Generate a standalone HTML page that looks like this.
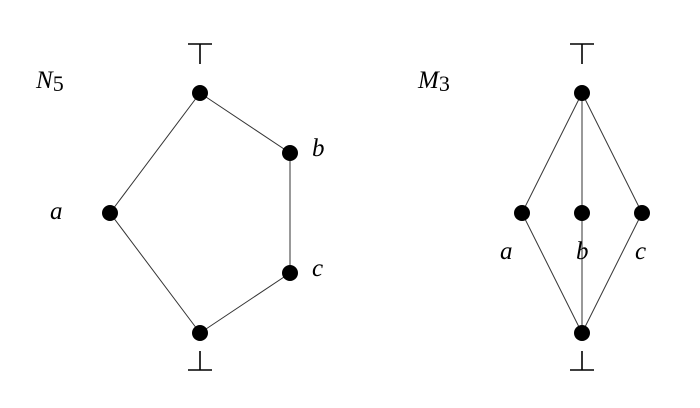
<!DOCTYPE html>
<html><head><style>body{margin:0;background:#fff}svg{display:block}text{font-family:"Liberation Serif","Times New Roman","DejaVu Serif",serif;font-style:italic;font-size:25px;fill:#000}</style></head><body>
<svg width="700" height="408" viewBox="0 0 700 408" xmlns="http://www.w3.org/2000/svg">
<g stroke="#333" stroke-width="1" fill="none">
<polyline points="200,93 290,153 290,273 200,333 110,213 200,93"/>
<line x1="582" y1="93" x2="522" y2="213"/><line x1="582" y1="93" x2="582" y2="333"/><line x1="582" y1="93" x2="642" y2="213"/>
<line x1="522" y1="213" x2="582" y2="333"/><line x1="642" y1="213" x2="582" y2="333"/>
</g>
<g stroke="#000" stroke-width="1.6">
<line x1="188" y1="44" x2="212" y2="44"/><line x1="200" y1="44" x2="200" y2="64"/>
<line x1="188" y1="370" x2="212" y2="370"/><line x1="200" y1="351" x2="200" y2="370"/>
<line x1="570" y1="44" x2="594" y2="44"/><line x1="582" y1="44" x2="582" y2="64"/>
<line x1="570" y1="370" x2="594" y2="370"/><line x1="582" y1="351" x2="582" y2="370"/>
</g>
<g fill="#000">
<circle cx="200" cy="93" r="8"/><circle cx="290" cy="153" r="8"/><circle cx="290" cy="273" r="8"/><circle cx="200" cy="333" r="8"/><circle cx="110" cy="213" r="8"/>
<circle cx="582" cy="93" r="8"/><circle cx="522" cy="213" r="8"/><circle cx="582" cy="213" r="8"/><circle cx="642" cy="213" r="8"/><circle cx="582" cy="333" r="8"/>
</g>
<text x="36" y="88">N<tspan font-style="normal" font-size="22" dy="3">5</tspan></text>
<text x="50" y="219">a</text><text x="312" y="156">b</text><text x="312" y="276">c</text>
<text x="418" y="88">M<tspan font-style="normal" font-size="22" dy="3">3</tspan></text>
<text x="500" y="259">a</text><text x="576" y="259">b</text><text x="635" y="259">c</text>
</svg>
</body></html>
